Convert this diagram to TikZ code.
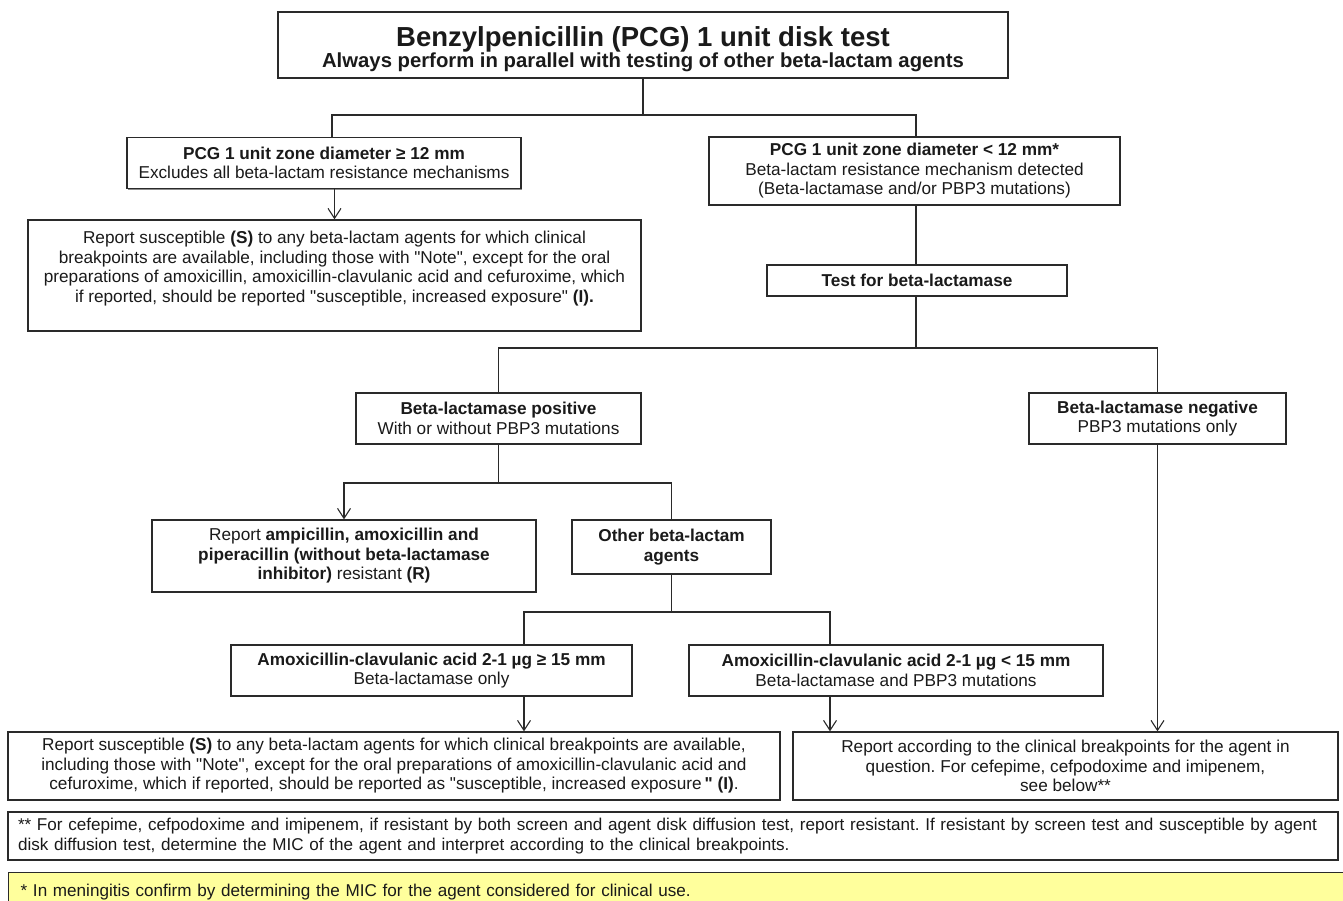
\documentclass[tikz,border=0pt]{standalone}
\usepackage{fontspec}
\setmainfont{Liberation Sans}
\newfontfamily\arialf{Liberation Sans}
\usetikzlibrary{arrows.meta,shadows,calc}
\definecolor{lin}{HTML}{2A2A2A}
\definecolor{txtc}{HTML}{1A1A1A}
\definecolor{yel}{HTML}{FFFF9C}
\begin{document}
\frenchspacing
\begin{tikzpicture}[x=1pt,y=-1pt,
  box/.style={draw=lin, line width=1.3pt, fill=white, align=center, inner sep=0pt, text=txtc,
    font=\arialf\fontsize{17.2}{19.5}\selectfont,
    drop shadow={shadow xshift=1.4pt, shadow yshift=-1.4pt, fill=black!45, opacity=1}},
  txt/.style={align=center, inner sep=0pt, text=txtc, font=\arialf\fontsize{17.2}{19.5}\selectfont},
  conn/.style={draw=lin, line width=1.3pt},
  arr/.style={conn, -{Straight Barb[length=10pt,width=13pt,line width=1.1pt]}}
]
\useasboundingbox (0,0) rectangle (1343,900);

% boxes
\node[box, minimum width=730pt, minimum height=66pt] (top) at (643,45) {};
\node[txt] (toptxt) at (643,49)
  {{\fontsize{27.5}{30}\selectfont\bfseries Benzylpenicillin (PCG) 1 unit disk test}\\[0pt]
   {\fontsize{20.3}{22}\selectfont\bfseries Always perform in parallel with testing of other beta-lactam agents}};

\node[box, minimum width=394pt, minimum height=51pt] (ge) at (324,163)
  {\textbf{PCG 1 unit zone diameter ≥ 12 mm}\\Excludes all beta-lactam resistance mechanisms};

\node[box, minimum width=613pt, minimum height=111pt] (rs) at (334.5,275.5) {};
\node[txt] (rstxt) at (334.5,268.5)
  {Report susceptible \textbf{(S)} to any beta-lactam agents for which clinical\\
   breakpoints are available, including those with "Note", except for the oral\\
   preparations of amoxicillin, amoxicillin-clavulanic acid and cefuroxime, which\\
   if reported, should be reported "susceptible, increased exposure" \textbf{(I).}};

\node[box, minimum width=411pt, minimum height=68pt] (lt) at (914.5,171)
  {\textbf{PCG 1 unit zone diameter < 12 mm*}\\Beta-lactam resistance mechanism detected\\(Beta-lactamase and/or PBP3 mutations)};

\node[box, minimum width=300pt, minimum height=31pt] (test) at (917,280.5)
  {\textbf{Test for beta-lactamase}};

\node[box, minimum width=285pt, minimum height=51pt] (pos) at (498.5,418.5)
  {\textbf{Beta-lactamase positive}\\With or without PBP3 mutations};

\node[box, minimum width=257pt, minimum height=51pt] (neg) at (1157.5,418.5)
  {\textbf{Beta-lactamase negative}\\PBP3 mutations only};

\node[box, minimum width=384pt, minimum height=72pt] (amp) at (344,556)
  {Report \textbf{ampicillin, amoxicillin and}\\\textbf{piperacillin (without beta-lactamase}\\\textbf{inhibitor)} resistant \textbf{(R)}};

\node[box, minimum width=199pt, minimum height=54pt] (oth) at (671.5,547)
  {\textbf{Other beta-lactam}\\\textbf{agents}};

\node[box, minimum width=401pt, minimum height=51pt] (age) at (431.5,670.5)
  {\textbf{Amoxicillin-clavulanic acid 2-1 µg ≥ 15 mm}\\Beta-lactamase only};

\node[box, minimum width=414pt, minimum height=51pt] (alt) at (896,670.5)
  {\textbf{Amoxicillin-clavulanic acid 2-1 µg < 15 mm}\\Beta-lactamase and PBP3 mutations};

\node[box, minimum width=772pt, minimum height=68pt] (bl) at (394,766)
  {Report susceptible \textbf{(S)} to any beta-lactam agents for which clinical breakpoints are available,\\
   including those with "Note", except for the oral preparations of amoxicillin-clavulanic acid and\\
   cefuroxime, which if reported, should be reported as "susceptible, increased exposure\,\textbf{"} \textbf{(I)}.};

\node[box, minimum width=545pt, minimum height=68pt] (br) at (1065.5,766)
  {Report according to the clinical breakpoints for the agent in\\
   question. For cefepime, cefpodoxime and imipenem,\\
   see below**};

\node[box, minimum width=1330pt, minimum height=48pt, text width=1310pt, align=left,
      font=\arialf\fontsize{17.1}{20.5}\selectfont] (fn) at (673,836)
  {** For cefepime, cefpodoxime and imipenem, if resistant by both screen and agent disk diffusion test, report resistant. If resistant by screen test and susceptible by agent\\
   disk diffusion test, determine the MIC of the agent and interpret according to the clinical breakpoints.};

\node[box, fill=yel, minimum width=1350pt, minimum height=38pt, text width=1326pt, align=left, anchor=north west,
      font=\arialf\fontsize{17.1}{20.5}\selectfont] (men) at (8,872)
  {* In meningitis confirm by determining the MIC for the agent considered for clinical use.};

% junctions
\coordinate (jA) at (643,115);
\coordinate (jB) at (916,348);
\coordinate (jC) at (498.5,483);
\coordinate (jD) at (671.5,612);

% connectors
\draw[conn] (top.south) -- (jA);
\draw[conn] (jA) -| ([xshift=8pt]ge.north);
\draw[conn] (jA) -| ([xshift=1.5pt]lt.north);
\draw[arr] (rs.north |- ge.south) -- (rs.north);
\draw[conn] ([xshift=1.5pt]lt.south) -- ([xshift=1.5pt]lt.south |- test.north);
\draw[conn] (test.south -| jB) -- (jB);
\draw[conn] (jB) -| (pos.north);
\draw[conn] (jB) -| (neg.north);
\draw[conn] (pos.south) -- (jC);
\draw[arr] (jC) -| (amp.north);
\draw[conn] (jC) -| (oth.north);
\draw[conn] (oth.south) -- (jD);
\draw[conn] (jD) -| ([xshift=92.5pt]age.north);
\draw[conn] (jD) -| ([xshift=-66pt]alt.north);
\draw[arr] ([xshift=92.5pt]age.south) -- ([xshift=92.5pt]age.south |- bl.north);
\draw[arr] ([xshift=-66pt]alt.south) -- ([xshift=-66pt]alt.south |- br.north);
\draw[arr] (neg.south) -- (neg.south |- br.north);
\end{tikzpicture}
\end{document}
